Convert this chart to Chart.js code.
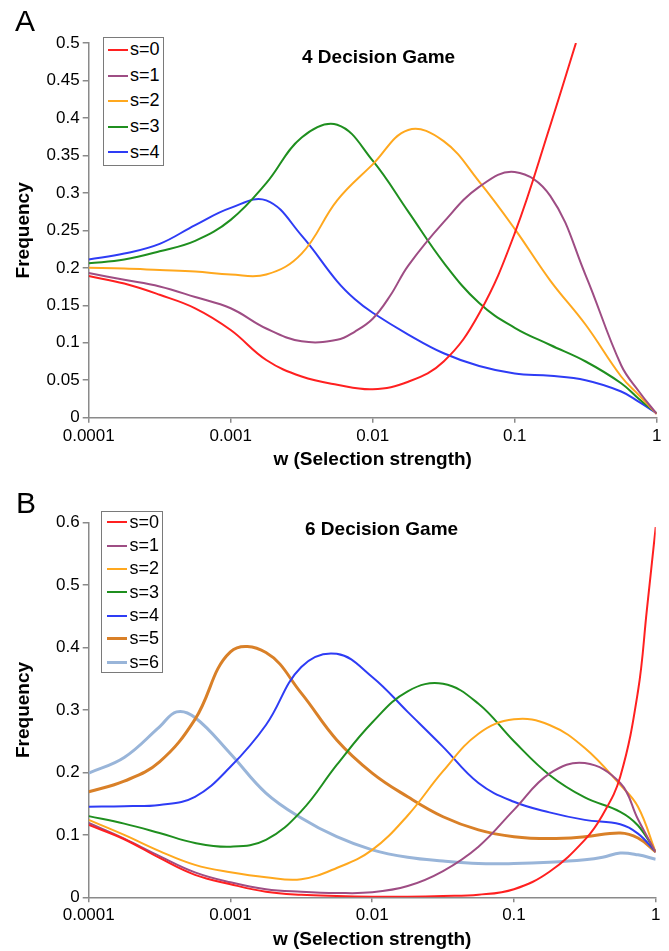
<!DOCTYPE html>
<html>
<head>
<meta charset="utf-8">
<script src="https://cdn.jsdelivr.net/npm/chart.js@4/dist/chart.umd.min.js"></script>
<style>
html,body{margin:0;padding:0;background:#fff;}
#wrap{position:relative;width:669px;height:951px;overflow:hidden;font-family:"Liberation Sans",Arial,sans-serif;color:#000;}
canvas{position:absolute;left:0;}
.panel{position:absolute;font-size:30px;line-height:30px;}
.gtitle{position:absolute;font-weight:bold;font-size:19px;line-height:19px;white-space:nowrap;}
.legend{position:absolute;border:1.5px solid #7a7a7a;background:#fff;box-sizing:border-box;}
.legend .sw{position:absolute;width:20px;}
.legend .lb{position:absolute;font-size:18px;white-space:nowrap;}
</style>
</head>
<body>
<div id="wrap">
  <canvas id="cA" width="669" height="478" style="top:0px"></canvas>
  <canvas id="cB" width="669" height="473" style="top:478px"></canvas>
  <div class="panel" style="left:15px;top:6px">A</div>
  <div class="panel" style="left:16px;top:488px">B</div>
  <div class="gtitle" style="left:302px;top:47px">4 Decision Game</div>
  <div class="gtitle" style="left:305px;top:519px">6 Decision Game</div>
  <div class="legend" id="legA" style="left:102.7px;top:36.7px;width:61.3px;height:129px"></div>
  <div class="legend" id="legB" style="left:101px;top:510.7px;width:62.3px;height:162.6px"></div>
</div>
<script>
// ---------- axis ticks ----------
const xTickValues = [0.0001, 0.001, 0.01, 0.1, 1];
const xTickLabels = ['0.0001', '0.001', '0.01', '0.1', '1'];
const yTicksA = [0, 0.05, 0.1, 0.15, 0.2, 0.25, 0.3, 0.35, 0.4, 0.45, 0.5];
const yLabelsA = ['0', '0.05', '0.1', '0.15', '0.2', '0.25', '0.3', '0.35', '0.4', '0.45', '0.5'];
const yTicksB = [0, 0.1, 0.2, 0.3, 0.4, 0.5, 0.6];
const yLabelsB = ['0', '0.1', '0.2', '0.3', '0.4', '0.5', '0.6'];

// ---------- series names ----------
const seriesA = ['s=0', 's=1', 's=2', 's=3', 's=4'];
const seriesB = ['s=0', 's=1', 's=2', 's=3', 's=4', 's=5', 's=6'];

// ---------- Panel A: 4 Decision Game (w values and frequencies) ----------
const wA0 = [0.0001,0.000178,0.000316,0.000562,0.001,0.00178,0.00316,0.00562,0.01,0.0178,0.0316,0.0562,0.1,0.178,0.27];
const fA0 = [0.189,0.179,0.164,0.146,0.117,0.077,0.055,0.044,0.038,0.048,0.075,0.139,0.246,0.39,0.5];
const wA1 = [0.0001,0.000178,0.000316,0.000562,0.001,0.00178,0.00316,0.00562,0.0075,0.01,0.0133,0.0178,0.0316,0.0562,0.1,0.178,0.316,0.562,0.75,1];
const fA1 = [0.193,0.184,0.175,0.161,0.146,0.119,0.102,0.104,0.115,0.132,0.163,0.203,0.261,0.308,0.328,0.296,0.19,0.07,0.035,0.005];
const wA2 = [0.0001,0.000178,0.000316,0.000562,0.001,0.00178,0.00316,0.00562,0.01,0.0178,0.0316,0.0562,0.1,0.178,0.316,0.562,0.75,1];
const fA2 = [0.200,0.199,0.197,0.195,0.191,0.191,0.219,0.29,0.338,0.384,0.369,0.315,0.252,0.183,0.124,0.055,0.03,0.005];
const wA3 = [0.0001,0.000178,0.000316,0.000562,0.001,0.00178,0.00316,0.00562,0.01,0.0178,0.0316,0.0562,0.1,0.178,0.316,0.562,0.75,1];
const fA3 = [0.206,0.211,0.222,0.236,0.264,0.313,0.374,0.391,0.343,0.275,0.207,0.153,0.12,0.097,0.075,0.046,0.025,0.006];
const wA4 = [0.0001,0.000178,0.000316,0.000562,0.001,0.00178,0.00316,0.00562,0.0075,0.01,0.0178,0.0316,0.0562,0.1,0.178,0.316,0.562,0.75,1];
const fA4 = [0.211,0.219,0.232,0.257,0.280,0.290,0.243,0.182,0.158,0.140,0.111,0.086,0.069,0.059,0.056,0.050,0.035,0.021,0.006];

// ---------- Panel B: 6 Decision Game ----------
const wB0 = [0.0001,0.000178,0.000316,0.000562,0.001,0.00178,0.00316,0.00562,0.01,0.0178,0.0316,0.0562,0.1,0.178,0.316,0.422,0.562,0.75,0.866,1];
const fB0 = [0.116,0.093,0.063,0.036,0.021,0.009,0.004,0.002,0.001,0.001,0.002,0.004,0.013,0.041,0.092,0.132,0.193,0.33,0.46,0.593];
const wB1 = [0.0001,0.000178,0.000316,0.000562,0.001,0.00178,0.00316,0.00562,0.01,0.0178,0.0316,0.0562,0.1,0.178,0.316,0.562,0.75,1];
const fB1 = [0.119,0.094,0.066,0.040,0.024,0.013,0.009,0.007,0.008,0.018,0.042,0.081,0.14,0.198,0.215,0.183,0.125,0.072];
const wB2 = [0.0001,0.000178,0.000316,0.000562,0.001,0.00178,0.00316,0.00562,0.01,0.0178,0.0316,0.0562,0.1,0.178,0.316,0.562,0.75,1];
const fB2 = [0.124,0.10,0.074,0.052,0.040,0.032,0.029,0.047,0.076,0.131,0.202,0.262,0.285,0.276,0.239,0.18,0.145,0.072];
const wB3 = [0.0001,0.000178,0.000316,0.000562,0.001,0.00178,0.00316,0.00562,0.01,0.0178,0.0316,0.0562,0.1,0.178,0.316,0.562,0.75,1];
const fB3 = [0.130,0.118,0.103,0.087,0.081,0.092,0.138,0.212,0.28,0.33,0.342,0.31,0.25,0.196,0.16,0.137,0.115,0.073];
const wB4 = [0.0001,0.000178,0.000316,0.000562,0.001,0.00178,0.00316,0.00562,0.01,0.0178,0.0316,0.0562,0.1,0.178,0.316,0.562,0.75,1];
const fB4 = [0.145,0.146,0.148,0.161,0.209,0.276,0.369,0.390,0.353,0.297,0.241,0.183,0.153,0.136,0.124,0.117,0.102,0.073];
const wB5 = [0.0001,0.000178,0.000316,0.000562,0.001,0.00178,0.00316,0.00562,0.01,0.0178,0.0316,0.0562,0.1,0.178,0.316,0.562,0.75,1];
const fB5 = [0.169,0.186,0.217,0.285,0.393,0.392,0.327,0.252,0.199,0.161,0.129,0.108,0.097,0.094,0.097,0.103,0.095,0.073];
const wB6 = [0.0001,0.000178,0.000316,0.000417,0.000562,0.001,0.00178,0.00316,0.00562,0.01,0.0178,0.0316,0.0562,0.1,0.178,0.316,0.422,0.562,0.75,1];
const fB6 = [0.199,0.224,0.273,0.297,0.288,0.23,0.167,0.127,0.097,0.076,0.064,0.058,0.054,0.054,0.056,0.06,0.064,0.071,0.068,0.061];

// ---------- styles ----------
const FAMILY = '"Liberation Sans", Arial, sans-serif';
const AXIS_GRAY = '#8a8a8a';
const colors = ['#FF2020', '#9E4D84', '#FFA81E', '#1F8F1F', '#2E3CF5', '#D98028', '#99B5D9'];
const widths = [2, 2, 2, 2, 2, 3, 3];

function pairs(ws, fs) { return ws.map((w, i) => ({x: w, y: fs[i]})); }

function makeDatasets(names, wList, fList) {
  return names.map((n, i) => ({
    label: n,
    data: pairs(wList[i], fList[i]),
    borderColor: colors[i],
    backgroundColor: colors[i],
    borderWidth: widths[i],
    pointRadius: 0,
    fill: false,
    tension: 0.4
  }));
}

function makeScales(yTicks, yLabels, yMax, yWidth, xHeight, xTitlePadB) {
  return {
    x: {
      type: 'logarithmic', min: 0.0001, max: 1,
      afterBuildTicks: s => { s.ticks = xTickValues.map(v => ({value: v})); },
      afterFit: s => { s.height = xHeight; },
      ticks: {autoSkip: false, maxRotation: 0, minRotation: 0, padding: 3, color: '#000',
              font: {size: 17, family: FAMILY}, callback: (v, i) => xTickLabels[i]},
      grid: {display: true, drawOnChartArea: false, drawTicks: true, tickLength: 5, color: AXIS_GRAY, lineWidth: 1.5},
      border: {display: true, color: AXIS_GRAY, width: 1.5},
      title: {display: true, text: 'w (Selection strength)', color: '#000',
              font: {size: 19, weight: 'bold', family: FAMILY}, padding: {top: 0, bottom: xTitlePadB}}
    },
    y: {
      min: 0, max: yMax,
      afterBuildTicks: s => { s.ticks = yTicks.map(v => ({value: v})); },
      afterFit: s => { s.width = yWidth; },
      ticks: {padding: 3, color: '#000', font: {size: 17, family: FAMILY}, callback: (v, i) => yLabels[i]},
      grid: {display: true, drawOnChartArea: false, drawTicks: true, tickLength: 6, color: AXIS_GRAY, lineWidth: 1.5},
      border: {display: true, color: AXIS_GRAY, width: 1.5},
      title: {display: true, text: 'Frequency', color: '#000',
              font: {size: 19, weight: 'bold', family: FAMILY}, padding: {top: 12, bottom: 0}}
    }
  };
}

function makeChart(id, datasets, scales, padding) {
  return new Chart(document.getElementById(id), {
    type: 'line',
    data: {datasets},
    options: {
      responsive: false, animation: false, events: [],
      layout: {padding},
      plugins: {legend: {display: false}, tooltip: {enabled: false}, title: {display: false}},
      scales
    }
  });
}

function buildLegend(chart, elId, firstCenter, spacing, swLeft, txtLeft) {
  const box = document.getElementById(elId);
  chart.data.datasets.forEach((ds, i) => {
    const c = firstCenter + i * spacing;
    const sw = document.createElement('div');
    sw.className = 'sw';
    sw.style.left = swLeft + 'px';
    sw.style.height = ds.borderWidth + 'px';
    sw.style.top = (c - ds.borderWidth / 2) + 'px';
    sw.style.background = ds.borderColor;
    box.appendChild(sw);
    const lb = document.createElement('div');
    lb.className = 'lb';
    lb.style.left = txtLeft + 'px';
    lb.style.lineHeight = spacing + 'px';
    lb.style.top = (c - spacing / 2) + 'px';
    lb.textContent = ds.label;
    box.appendChild(lb);
  });
}

const chartA = makeChart('cA',
  makeDatasets(seriesA, [wA0, wA1, wA2, wA3, wA4], [fA0, fA1, fA2, fA3, fA4]),
  makeScales(yTicksA, yLabelsA, 0.5, 88.7, 60.3, 6.6),
  {left: 0, top: 43, right: 12.3, bottom: 0});

const chartB = makeChart('cB',
  makeDatasets(seriesB, [wB0, wB1, wB2, wB3, wB4, wB5, wB6], [fB0, fB1, fB2, fB3, fB4, fB5, fB6]),
  makeScales(yTicksB, yLabelsB, 0.6, 88.7, 53.7, 0),
  {left: 0, top: 44.7, right: 13.3, bottom: 0});

buildLegend(chartA, 'legA', 12.3, 25.6, 4.3, 26.3);
buildLegend(chartB, 'legB', 10.5, 23.33, 4.5, 27.5);
</script>
</body>
</html>
